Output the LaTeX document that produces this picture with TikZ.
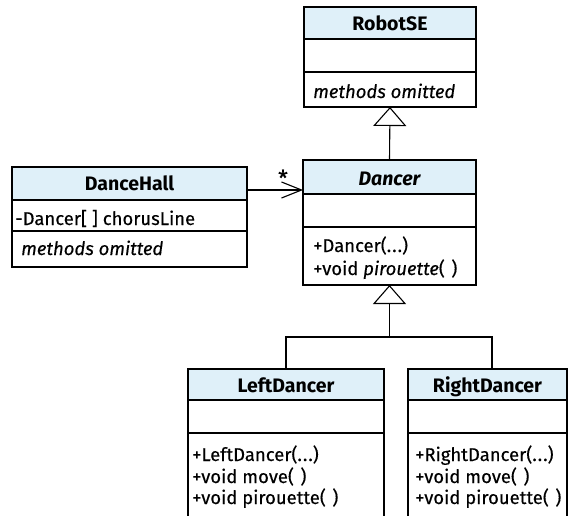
\documentclass[tikz,border=0pt]{standalone}
\usepackage{fontspec}
\setmainfont{Fira Sans}[UprightFeatures={FakeBold=0.3}, ItalicFeatures={FakeBold=0.3}]
\usetikzlibrary{arrows.meta,calc}
\definecolor{hdrblue}{RGB}{223,240,249}
\newcommand\umlfs{\fontsize{18.5}{22}\selectfont}
\newcommand\ttlfs{\fontsize{19.5}{22}\selectfont}
\newcommand\noargs{(\kern6.5pt)}
\begin{document}
\begin{tikzpicture}[x=1pt,y=-1pt,
  box/.style={draw=black, line width=1.1pt, anchor=north west,
    inner sep=0pt, outer sep=0pt},
  hdr/.style={box, fill=hdrblue},
  cmp/.style={box, fill=white},
  ttl/.style={anchor=base, inner sep=0pt, font=\ttlfs\bfseries},
  txt/.style={anchor=base west, inner sep=0pt, font=\umlfs},
  gen/.style={-{Triangle[open, length=19pt, width=33pt]}, line width=1.1pt},
  nav/.style={-{Straight Barb[length=20pt, width=16pt, line width=1.1pt]}, line width=1.1pt},
  conn/.style={line width=1.1pt}]
\useasboundingbox (0,0) rectangle (570,516);

% RobotSE
\node[hdr, minimum width=172pt, minimum height=32pt] (robotH) at (304,7) {};
\node[cmp, minimum width=172pt, minimum height=33pt] (robotA) at (robotH.south west) {};
\node[cmp, minimum width=172pt, minimum height=35pt] (robotM) at (robotA.south west) {};
\node[ttl] (robotT) at ($(robotH.north)+(0,24)$) {RobotSE};
\node[txt] (robotOps) at (313,98) {\itshape methods omitted};

% Dancer (abstract)
\node[hdr, minimum width=173pt, minimum height=34pt] (dancerH) at (303,160) {};
\node[cmp, minimum width=173pt, minimum height=33pt] (dancerA) at (dancerH.south west) {};
\node[cmp, minimum width=173pt, minimum height=58pt] (dancerM) at (dancerA.south west) {};
\node[ttl] (dancerT) at ($(dancerH.north)+(0,25)$) {\itshape Dancer};
\node[txt] (dancerOp1) at (313,252) {+Dancer(.\kern1pt.\kern1pt.)};
\node[txt] (dancerOp2) at (313,275) {+void \textit{pirouette}\noargs};

% DanceHall
\node[hdr, minimum width=235pt, minimum height=33pt] (hallH) at (12,167) {};
\node[cmp, minimum width=235pt, minimum height=31pt] (hallA) at (hallH.south west) {};
\node[cmp, minimum width=235pt, minimum height=36pt] (hallM) at (hallA.south west) {};
\node[ttl] (hallT) at ($(hallH.north)+(0,23)$) {DanceHall};
\node[txt] (hallAttr) at (15,225) {-Dancer[\kern5pt] chorusLine};
\node[txt] (hallOps) at (21,255) {\itshape methods omitted};

% LeftDancer
\node[hdr, minimum width=196pt, minimum height=31pt] (leftH) at (188,369) {};
\node[cmp, minimum width=196pt, minimum height=33pt] (leftA) at (leftH.south west) {};
\node[cmp, minimum width=196pt, minimum height=100pt] (leftM) at (leftA.south west) {};
\node[ttl] (leftT) at ($(leftH.north)+(0,23)$) {LeftDancer};
\node[txt] (leftOp1) at (192,461) {+LeftDancer(.\kern1pt.\kern1pt.)};
\node[txt] (leftOp2) at (192,483) {+void move\noargs};
\node[txt] (leftOp3) at (192,504) {+void pirouette\noargs};

% RightDancer
\node[hdr, minimum width=159pt, minimum height=31pt] (rightH) at (408,369) {};
\node[cmp, minimum width=159pt, minimum height=33pt] (rightA) at (rightH.south west) {};
\node[cmp, minimum width=159pt, minimum height=100pt] (rightM) at (rightA.south west) {};
\node[ttl] (rightT) at ($(rightH.north)+(0,23)$) {RightDancer};
\node[txt] (rightOp1) at (415,461) {+RightDancer(.\kern1pt.\kern1pt.)};
\node[txt] (rightOp2) at (415,483) {+void move\noargs};
\node[txt] (rightOp3) at (415,504) {+void pirouette\noargs};

% Generalisations
\draw[gen] (dancerH.north) -- (robotM.south);
\coordinate (bus) at (389.5,337);
\draw[conn] (leftH.north) |- (bus) -| ([xshift=4.5pt]rightH.north);
\draw[gen] (bus) -- (dancerM.south);

% Association DanceHall -> Dancer
\draw[nav] (hallH.east |- 0,190) -- (dancerH.west |- 0,190);
\node[anchor=base, inner sep=0pt, font=\fontsize{22}{22}\selectfont] (mult) at (283,186) {*};
\end{tikzpicture}
\end{document}
